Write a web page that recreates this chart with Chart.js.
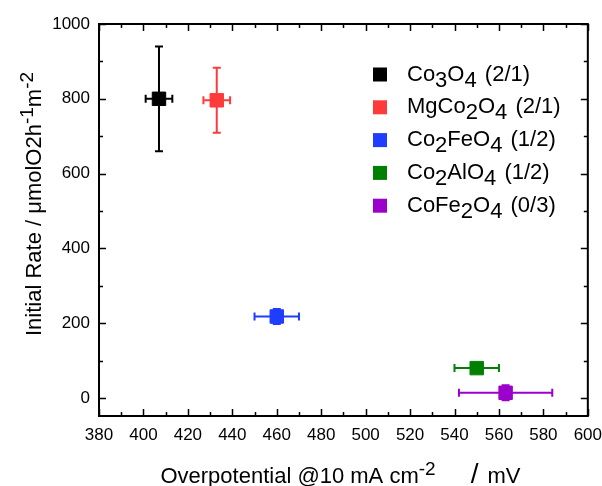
<!DOCTYPE html>
<html>
<head>
<meta charset="utf-8">
<script src="https://cdn.jsdelivr.net/npm/chart.js@4/dist/chart.umd.min.js"></script>
<style>
  html, body { margin: 0; padding: 0; background: #fff; }
  canvas { display: block; }
</style>
</head>
<body>
<canvas id="chart" width="602" height="486"></canvas>
<script>
// Spinel oxides: OER overpotential vs. initial O2 evolution rate
const compounds = ['Co_{3}O_{4} (2/1)', 'MgCo_{2}O_{4} (2/1)', 'Co_{2}FeO_{4} (1/2)', 'Co_{2}AlO_{4} (1/2)', 'CoFe_{2}O_{4} (0/3)'];
const overpotential    = [407, 433, 460, 550, 563];
const overpotentialErr = [6, 6, 10, 10, 21];
const initialRate      = [800, 796, 218, 80, 14];
const initialRateErr   = [140, 87, 20, 12, 20];
const xTicks = [380, 400, 420, 440, 460, 480, 500, 520, 540, 560, 580, 600];
const yTicks = [0, 200, 400, 600, 800, 1000];
const colors = ['#000000', '#ff3a3a', '#1f3cff', '#008000', '#9c00cc'];

const FONT = '"Liberation Sans", Arial, sans-serif';

// Split "A_{b}C^{d}" style markup into runs of normal / sub / sup text
function parseRich(str) {
  const out = [];
  const re = /([_^])\{([^}]*)\}/g;
  let last = 0, m;
  while ((m = re.exec(str)) !== null) {
    if (m.index > last) out.push({ t: str.slice(last, m.index), k: 'n' });
    out.push({ t: m[2], k: m[1] === '_' ? 'sub' : 'sup' });
    last = re.lastIndex;
  }
  if (last < str.length) out.push({ t: str.slice(last), k: 'n' });
  return out;
}

// Runs on one baseline; each run: {t, size, dy, dx}
function layoutRuns(ctx, runs) {
  let w = 0;
  runs.forEach(r => {
    ctx.font = r.size + 'px ' + FONT;
    r.w = ctx.measureText(r.t).width;
    w += (r.dx || 0) + r.w;
  });
  return w;
}
function drawRuns(ctx, runs, x, y) {
  let cx = x;
  runs.forEach(r => {
    cx += (r.dx || 0);
    ctx.font = r.size + 'px ' + FONT;
    ctx.fillText(r.t, cx, y + (r.dy || 0));
    cx += r.w;
  });
}
function richRuns(str, size, subSize, subDy, supSize, supDy) {
  return parseRich(str).map(s => {
    if (s.k === 'sub') return { t: s.t, size: subSize, dy: subDy };
    if (s.k === 'sup') return { t: s.t, size: supSize, dy: supDy };
    return { t: s.t, size: size, dy: 0, dx: s.t.startsWith(' ') ? 2 : 0 };
  });
}

// Axis frame with inward major/minor ticks on all four sides
const framePlugin = {
  id: 'frame',
  afterDraw(chart) {
    const { ctx, chartArea: a, scales: { x, y } } = chart;
    ctx.save();
    ctx.strokeStyle = '#000';
    ctx.lineWidth = 1.5;
    const xs = [];
    xTicks.forEach((v, i) => {
      xs.push({ v, major: true });
      if (i < xTicks.length - 1) xs.push({ v: (v + xTicks[i + 1]) / 2, major: false });
    });
    xs.forEach(t => {
      const px = Math.round(x.getPixelForValue(t.v)) + 0.5;
      const len = t.major ? 7 : 4;
      ctx.beginPath();
      ctx.moveTo(px, a.bottom); ctx.lineTo(px, a.bottom - len);
      ctx.moveTo(px, a.top); ctx.lineTo(px, a.top + len);
      ctx.stroke();
    });
    const ys = [];
    yTicks.forEach((v, i) => {
      ys.push({ v, major: true });
      if (i < yTicks.length - 1) ys.push({ v: (v + yTicks[i + 1]) / 2, major: false });
    });
    ys.forEach(t => {
      const py = Math.round(y.getPixelForValue(t.v)) + 0.5;
      const len = t.major ? 7 : 4;
      ctx.beginPath();
      ctx.moveTo(a.left, py); ctx.lineTo(a.left + len, py);
      ctx.moveTo(a.right, py); ctx.lineTo(a.right - len, py);
      ctx.stroke();
    });
    ctx.lineWidth = 2;
    ctx.strokeRect(a.left, a.top, a.right - a.left, a.bottom - a.top);
    ctx.restore();
  }
};

// X and Y error bars with caps, drawn beneath the markers
const errorBarPlugin = {
  id: 'errorBars',
  beforeDatasetsDraw(chart) {
    const { ctx, scales: { x, y } } = chart;
    ctx.save();
    ctx.lineWidth = 2;
    const cap = 4;
    overpotential.forEach((xv, i) => {
      const yv = initialRate[i];
      const px = x.getPixelForValue(xv), py = y.getPixelForValue(yv);
      const x0 = x.getPixelForValue(xv - overpotentialErr[i]);
      const x1 = x.getPixelForValue(xv + overpotentialErr[i]);
      const y0 = y.getPixelForValue(yv - initialRateErr[i]);
      const y1 = y.getPixelForValue(yv + initialRateErr[i]);
      ctx.strokeStyle = colors[i];
      ctx.beginPath();
      ctx.moveTo(x0, py); ctx.lineTo(x1, py);
      ctx.moveTo(x0, py - cap); ctx.lineTo(x0, py + cap);
      ctx.moveTo(x1, py - cap); ctx.lineTo(x1, py + cap);
      ctx.moveTo(px, y0); ctx.lineTo(px, y1);
      ctx.moveTo(px - cap, y0); ctx.lineTo(px + cap, y0);
      ctx.moveTo(px - cap, y1); ctx.lineTo(px + cap, y1);
      ctx.stroke();
    });
    ctx.restore();
  }
};

// Legend with chemical subscripts, and axis titles with superscripts
const textPlugin = {
  id: 'richText',
  afterDraw(chart) {
    const { ctx, chartArea: a } = chart;
    ctx.save();
    ctx.fillStyle = '#000';
    ctx.textAlign = 'left';
    ctx.textBaseline = 'alphabetic';

    // legend
    compounds.forEach((label, i) => {
      const cy = 74.5 + i * 32.8;
      ctx.fillStyle = colors[i];
      ctx.fillRect(373, cy - 7, 14, 14);
      ctx.fillStyle = '#000';
      const runs = richRuns(label, 22, 22, 6, 22, -6);
      layoutRuns(ctx, runs);
      drawRuns(ctx, runs, 407, cy + 6);
    });

    // x-axis title
    const xRuns = [
      { t: 'Overpotential @10 mA cm', size: 22 },
      { t: '-2', size: 19, dy: -8 },
      { t: '/', size: 28, dx: 35 },
      { t: 'mV', size: 22, dx: 9 }
    ];
    const xw = layoutRuns(ctx, xRuns);
    drawRuns(ctx, xRuns, (a.left + a.right) / 2 - 3 - xw / 2, 483);

    // y-axis title (rotated)
    const yRuns = [
      { t: 'Initial Rate / \u03bcmolO2h', size: 22 },
      { t: '-1', size: 19, dy: -8 },
      { t: 'm', size: 22 },
      { t: '-2', size: 19, dy: -8 }
    ];
    const yw = layoutRuns(ctx, yRuns);
    ctx.translate(41, 204);
    ctx.rotate(-Math.PI / 2);
    drawRuns(ctx, yRuns, -yw / 2, 0);
    ctx.restore();
  }
};

const datasets = compounds.map((label, i) => ({
  label: label,
  data: [{ x: overpotential[i], y: initialRate[i] }],
  pointStyle: 'rect',
  pointRadius: 9.5,
  pointHoverRadius: 9.5,
  backgroundColor: colors[i],
  borderColor: colors[i],
  borderWidth: 1
}));

// Tick labels are offset with an invisible tick mark so that label padding
// does not widen the layout's edge margins.
const hiddenGrid = len => ({
  display: true,
  drawOnChartArea: false,
  drawTicks: true,
  tickLength: len,
  color: 'rgba(0,0,0,0)'
});

new Chart(document.getElementById('chart'), {
  type: 'scatter',
  data: { datasets },
  options: {
    responsive: false,
    animation: false,
    devicePixelRatio: 1,
    layout: { padding: { top: 24, right: 14, left: 0, bottom: 0 } },
    plugins: { legend: { display: false }, tooltip: { enabled: false } },
    scales: {
      x: {
        type: 'linear',
        min: 380,
        max: 600,
        afterBuildTicks: s => { s.ticks = xTicks.map(v => ({ value: v })); },
        afterFit: s => { s.height = 70; },
        grid: hiddenGrid(9),
        border: { display: false },
        ticks: {
          color: '#000',
          font: { family: FONT, size: 17 },
          padding: 0,
          maxRotation: 0,
          autoSkip: false,
          callback: v => String(v)
        }
      },
      y: {
        type: 'linear',
        min: -48,
        max: 1000,
        afterBuildTicks: s => { s.ticks = yTicks.map(v => ({ value: v })); },
        afterFit: s => { s.width = 99; },
        grid: hiddenGrid(9),
        border: { display: false },
        ticks: {
          color: '#000',
          font: { family: FONT, size: 17 },
          padding: 0,
          autoSkip: false,
          callback: v => String(v)
        }
      }
    }
  },
  plugins: [errorBarPlugin, framePlugin, textPlugin]
});
</script>
</body>
</html>
